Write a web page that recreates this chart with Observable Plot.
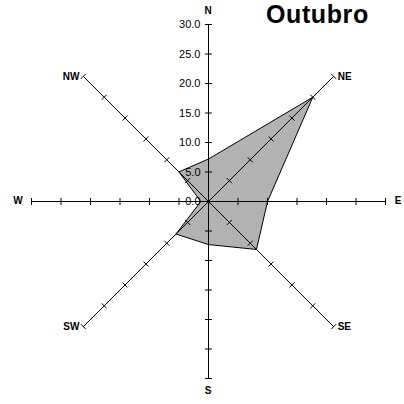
<!DOCTYPE html><html><head><meta charset="utf-8">
<script src="https://cdn.jsdelivr.net/npm/d3@7"></script>
<script src="https://cdn.jsdelivr.net/npm/@observablehq/plot@0.6"></script>
<style>body{margin:0;background:#fff}#c{position:relative;width:404px;height:404px;overflow:hidden}
#t{position:absolute;left:266px;top:0px;font:bold 25px "Liberation Sans",Arial,sans-serif;white-space:nowrap;line-height:28px;letter-spacing:0.6px}</style>
</head><body><div id="c"><div id="t">Outubro</div></div>
<script>
const directions = ["N","NE","E","SE","S","SW","W","NW"];
const angles = [90,45,0,-45,-90,-135,180,135];
const values = [7.2,25.0,10.0,11.5,7.3,7.8,1.3,7.1];
const tickValues = [0,5,10,15,20,25,30];
const tickLabels = ["0.0","5.0","10.0","15.0","20.0","25.0","30.0"];
const R = 30;
const rad = a => a*Math.PI/180;
const poly = directions.map((d,i)=>({x:values[i]*Math.cos(rad(angles[i])),y:values[i]*Math.sin(rad(angles[i]))}));
poly.push(poly[0]);
const axes = angles.map(a=>({x2:R*Math.cos(rad(a)),y2:R*Math.sin(rad(a))}));
const ticks = [];
angles.forEach(a=>tickValues.slice(1).forEach(v=>{
  const cx=v*Math.cos(rad(a)), cy=v*Math.sin(rad(a)), px=-Math.sin(rad(a))*0.6, py=Math.cos(rad(a))*0.6;
  ticks.push({x1:cx-px,y1:cy-py,x2:cx+px,y2:cy+py});
}));
const lab = directions.map((d,i)=>{
  const a=angles[i], r=(a%90===0)?R+2.2:R;
  return {d, x:r*Math.cos(rad(a)), y:r*Math.sin(rad(a)), a};
});
const common = {x:"x",y:"y",text:"d",fontSize:10,fontWeight:"bold",fill:"#000"};
const chart = Plot.plot({
  width:404,height:404,marginLeft:31,marginRight:19,marginTop:24,marginBottom:26,
  x:{domain:[-30,30],axis:null},y:{domain:[-30,30],axis:null},
  style:{fontFamily:"Liberation Sans, Arial, sans-serif"},
  marks:[
    Plot.line(poly,{x:"x",y:"y",fill:"#b2b2b2",stroke:"#000",strokeWidth:1,curve:"linear"}),
    Plot.link(axes,{x1:0,y1:0,x2:"x2",y2:"y2",stroke:"#000",strokeWidth:1}),
    Plot.link(ticks,{x1:"x1",y1:"y1",x2:"x2",y2:"y2",stroke:"#000",strokeWidth:1}),
    Plot.text(tickValues,{x:0,y:d=>d,text:(d,i)=>tickLabels[i],dx:-8,textAnchor:"end",fontSize:11,fill:"#000"}),
    Plot.text(lab.filter(d=>d.a%90===0),{...common, dx:d=>d.a===0?3:d.a===180?-4:0, dy:d=>d.a===90?-2:d.a===-90?4:0}),
    Plot.text(lab.filter(d=>d.a%90!==0&&d.x>0),{...common, textAnchor:"start", dx:4}),
    Plot.text(lab.filter(d=>d.a%90!==0&&d.x<0),{...common, textAnchor:"end", dx:-4})
  ]
});
document.getElementById("c").prepend(chart);
</script></body></html>
